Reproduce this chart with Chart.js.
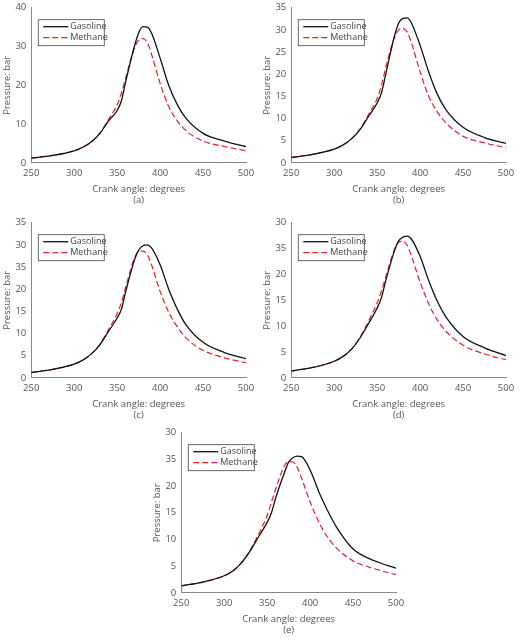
<!DOCTYPE html>
<html><head><meta charset="utf-8">
<script src="https://cdn.jsdelivr.net/npm/chart.js@4"></script>
<style>
body{margin:0;background:#fff;width:520px;height:640px;position:relative;overflow:hidden}
.p{position:absolute;width:260px;height:210px}
</style></head><body>
<div class="p" style="left:0;top:0"><canvas id="ca"></canvas></div>
<div class="p" style="left:260px;top:0"><canvas id="cb"></canvas></div>
<div class="p" style="left:0;top:215px"><canvas id="cc"></canvas></div>
<div class="p" style="left:260px;top:215px"><canvas id="cd"></canvas></div>
<div class="p" style="left:150px;top:425px;height:215px"><canvas id="ce"></canvas></div>
<script>
const angles = [250,275,300,310,320,330,340,350,355,360,370,375,380,385,390,400,410,420,430,450,475,500];

const gasA = [1.2,1.9,3.1,4.0,5.4,7.6,10.8,13.5,16,21,30,33.5,35.1,35,33.5,27,20,15,11.5,7.6,5.6,4.2];
const methA = [1.2,1.9,3.1,4.0,5.4,7.7,11.2,15,18,22,29.5,31.6,32,31,28,20.5,14.5,10.8,8.3,5.6,4.2,3.1];
const gasB = [1.2,1.9,3.1,4.0,5.4,7.5,10.5,13.5,15.8,20,28.5,31.5,32.6,32.7,31.5,26.5,20.5,15.5,12,8,5.7,4.4];
const methB = [1.2,1.9,3.1,4.0,5.4,7.6,10.9,14.5,17.5,21.5,28.2,30,30.3,29.5,27,20.5,15,11.5,9,6,4.5,3.4];
const gasC = [1.2,1.9,3.1,4.0,5.4,7.5,10.5,13.5,15.5,19.5,26.5,28.8,29.8,30,29.3,25.5,20,15.5,12,8,5.7,4.3];
const methC = [1.2,1.9,3.1,4.0,5.4,7.6,10.9,14.5,17,20.5,27,28.5,28.6,27.8,25.5,19.5,14.8,11.5,9,6.2,4.5,3.4];
const gasD = [1.3,2.0,3.2,4.1,5.5,7.7,10.5,13.5,15.5,18.8,24.5,26.5,27.2,27.4,26.8,23.5,18.8,14.8,11.8,8,5.8,4.3];
const methD = [1.3,2.0,3.2,4.1,5.5,7.8,11,14.5,16.8,19.5,24.8,26.2,26.4,25.6,23.5,18.5,14.3,11.2,9,6.3,4.6,3.5];
const gasE = [1.3,2.0,3.2,4.1,5.6,7.8,10.5,13.2,15,17.8,22.5,24.5,25.3,25.6,25.5,23,19,15.5,12.5,8.2,6,4.6];
const methE = [1.3,2.0,3.2,4.1,5.6,7.9,11,14.5,17,19.5,23.8,24.6,24.5,23.5,21.5,17,13.3,10.5,8.5,6,4.5,3.4];

// y tick labels exactly as printed (some panels misprint 25 as 35)
const ticksA = ["0","10","20","30","40"];
const ticksB = ["0","5","10","15","20","25","30","35"];
const ticksC = ["0","5","10","15","20","35","30","35"];
const ticksD = ["0","5","10","15","20","35","30"];
const ticksE = ["0","5","10","15","20","35","30"];

const GREY = "#555";
const FONT = "'Open Sans', sans-serif";

// boxed legend in the upper-left of the plot
const boxLegend = {
  id: "boxLegend",
  afterDraw(chart) {
    const { ctx, chartArea: a } = chart;
    const x = a.left + 7, y = a.top + 12, w = 66, h = 26;
    ctx.save();
    ctx.strokeStyle = "#444"; ctx.lineWidth = 0.8;
    ctx.strokeRect(x, y, w, h);
    ctx.font = "9px " + FONT; ctx.fillStyle = "#444"; ctx.textBaseline = "middle";
    chart.data.datasets.forEach((d, i) => {
      const ly = y + 7 + i * 11;
      ctx.strokeStyle = d.borderColor; ctx.lineWidth = d.borderWidth;
      ctx.setLineDash(d.borderDash || []);
      ctx.beginPath(); ctx.moveTo(x + 5, ly); ctx.lineTo(x + 30, ly); ctx.stroke();
      ctx.setLineDash([]);
      ctx.fillText(d.label, x + 32, ly);
    });
    ctx.restore();
  },
};

function panel(id, gas, meth, labels, step, tag) {
  const pts = (v) => angles.map((a, i) => ({ x: a, y: v[i] }));
  new Chart(document.getElementById(id), {
    type: "line",
    data: {
      datasets: [
        { label: "Gasoline", data: pts(gas), borderColor: "#111", borderWidth: 1.3, pointRadius: 0, cubicInterpolationMode: "monotone" },
        { label: "Methane", data: pts(meth), borderColor: "#e0242a", borderWidth: 1.2, borderDash: [6, 3], pointRadius: 0, cubicInterpolationMode: "monotone" },
      ],
    },
    options: {
      animation: false, responsive: true, maintainAspectRatio: false,
      layout: { padding: { top: 4, right: 14, left: 2 } },
      plugins: { legend: { display: false }, tooltip: { enabled: false } },
      scales: {
        x: {
          type: "linear", min: 250, max: 500,
          ticks: { stepSize: 50, color: GREY, font: { family: FONT, size: 9.5 }, maxRotation: 0, padding: 2 },
          grid: { display: false, tickLength: 3 },
          border: { color: "#888" },
          title: { display: true, text: ["Crank angle: degrees", tag], color: GREY, font: { family: FONT, size: 9.5 }, padding: { top: 2 } },
        },
        y: {
          min: 0, max: step * (labels.length - 1),
          ticks: { stepSize: step, autoSkip: false, color: GREY, font: { family: FONT, size: 9.5 }, padding: 2, callback: (v) => labels[Math.round(v / step)] },
          grid: { display: false, tickLength: 3 },
          border: { color: "#888" },
          title: { display: true, text: "Pressure: bar", color: GREY, font: { family: FONT, size: 9.5 }, padding: 0 },
        },
      },
    },
    plugins: [boxLegend],
  });
}

panel("ca", gasA, methA, ticksA, 10, "(a)");
panel("cb", gasB, methB, ticksB, 5, "(b)");
panel("cc", gasC, methC, ticksC, 5, "(c)");
panel("cd", gasD, methD, ticksD, 5, "(d)");
panel("ce", gasE, methE, ticksE, 5, "(e)");
</script>
</body></html>
